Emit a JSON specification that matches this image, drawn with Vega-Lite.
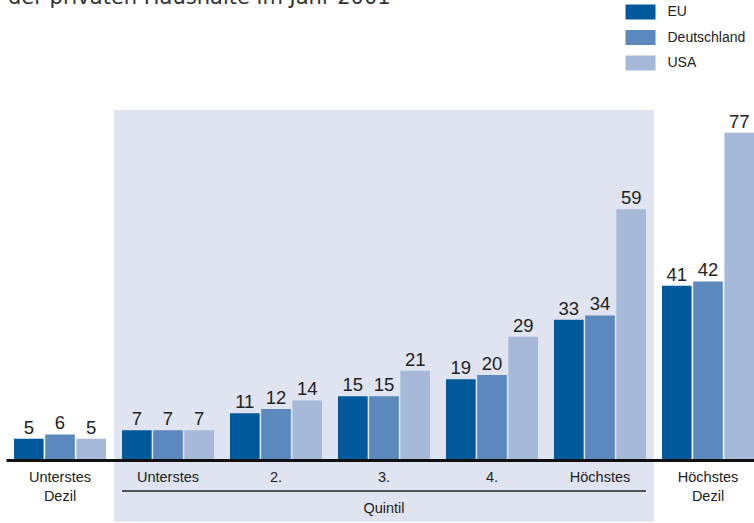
{
  "$schema": "https://vega.github.io/schema/vega-lite/v6.json",
  "width": 756,
  "height": 460,
  "autosize": {"type": "none"},
  "padding": {"left": 6, "right": -8, "top": 0, "bottom": 63},
  "background": "white",
  "title": {
    "text": "der privaten Haushalte im Jahr 2001",
    "anchor": "start",
    "frame": "group",
    "orient": "top",
    "offset": 0,
    "baseline": "alphabetic",
    "dy": 24.5,
    "dx": 2,
    "font": "DejaVu Sans",
    "fontSize": 21,
    "fontWeight": "normal",
    "color": "#333333"
  },
  "config": {
    "view": {"stroke": null},
    "font": "Liberation Sans"
  },
  "data": {
    "values": [
      {"kategorie": "Unterstes Dezil", "land": "EU", "wert": 5},
      {"kategorie": "Unterstes Dezil", "land": "Deutschland", "wert": 6},
      {"kategorie": "Unterstes Dezil", "land": "USA", "wert": 5},
      {"kategorie": "Unterstes", "land": "EU", "wert": 7},
      {"kategorie": "Unterstes", "land": "Deutschland", "wert": 7},
      {"kategorie": "Unterstes", "land": "USA", "wert": 7},
      {"kategorie": "2.", "land": "EU", "wert": 11},
      {"kategorie": "2.", "land": "Deutschland", "wert": 12},
      {"kategorie": "2.", "land": "USA", "wert": 14},
      {"kategorie": "3.", "land": "EU", "wert": 15},
      {"kategorie": "3.", "land": "Deutschland", "wert": 15},
      {"kategorie": "3.", "land": "USA", "wert": 21},
      {"kategorie": "4.", "land": "EU", "wert": 19},
      {"kategorie": "4.", "land": "Deutschland", "wert": 20},
      {"kategorie": "4.", "land": "USA", "wert": 29},
      {"kategorie": "Höchstes", "land": "EU", "wert": 33},
      {"kategorie": "Höchstes", "land": "Deutschland", "wert": 34},
      {"kategorie": "Höchstes", "land": "USA", "wert": 59},
      {"kategorie": "Höchstes Dezil", "land": "EU", "wert": 41},
      {"kategorie": "Höchstes Dezil", "land": "Deutschland", "wert": 42},
      {"kategorie": "Höchstes Dezil", "land": "USA", "wert": 77}
    ]
  },
  "layer": [
    {
      "data": {"values": [{}]},
      "mark": {"type": "rect", "color": "#dfe4f0"},
      "encoding": {
        "x": {
          "datum": "Unterstes",
          "bandPosition": -0.087,
          "type": "nominal",
          "scale": {
            "domain": ["Unterstes Dezil", "Unterstes", "2.", "3.", "4.", "Höchstes", "Höchstes Dezil"],
            "paddingInner": 0.148,
            "paddingOuter": 0.074
          },
          "axis": {
            "title": null,
            "labelAngle": 0,
            "ticks": false,
            "domain": true,
            "domainColor": "#111111",
            "domainWidth": 3,
            "labelPadding": 10,
            "labelFont": "Liberation Sans",
            "labelFontSize": 14.5,
            "labelColor": "#222222",
            "labelLineHeight": 19,
            "labelBaseline": "top",
            "labelExpr": "split(datum.label, ' ')",
            "zindex": 1
          }
        },
        "x2": {"datum": "Höchstes", "bandPosition": 1.087},
        "y": {
          "datum": 82.3,
          "type": "quantitative",
          "scale": {"domain": [0, 108.2], "nice": false, "zero": true},
          "axis": null
        },
        "y2": {"datum": -14.5}
      }
    },
    {
      "mark": {"type": "bar"},
      "encoding": {
        "x": {"field": "kategorie", "type": "nominal"},
        "xOffset": {
          "field": "land",
          "type": "nominal",
          "scale": {"domain": ["EU", "Deutschland", "USA"], "paddingInner": 0.05, "paddingOuter": 0}
        },
        "y": {"field": "wert", "type": "quantitative"},
        "color": {
          "field": "land",
          "type": "nominal",
          "scale": {"domain": ["EU", "Deutschland", "USA"], "range": ["#00599b", "#5b88bd", "#a6b9d9"]},
          "legend": {
            "title": null,
            "orient": "none",
            "legendX": 627,
            "legendY": 4.5,
            "padding": 0,
            "symbolType": "M-2,-1H2V1H-2Z",
            "symbolSize": 225,
            "symbolStrokeWidth": 0,
            "labelOffset": 19.5,
            "labelFont": "Liberation Sans",
            "labelFontSize": 14,
            "labelColor": "#222222",
            "rowPadding": 10.5,
            "zindex": 1
          }
        }
      }
    },
    {
      "mark": {"type": "text", "baseline": "alphabetic", "dy": -5, "fontSize": 18.5, "font": "Liberation Sans", "color": "#222222"},
      "encoding": {
        "x": {"field": "kategorie", "type": "nominal"},
        "xOffset": {"field": "land", "type": "nominal"},
        "y": {"field": "wert", "type": "quantitative"},
        "text": {"field": "wert", "type": "quantitative"}
      }
    },
    {
      "data": {"values": [{}]},
      "mark": {"type": "rule", "color": "#222222", "strokeWidth": 1.5},
      "encoding": {
        "x": {"datum": "Unterstes", "type": "nominal", "bandPosition": 0},
        "x2": {"datum": "Höchstes", "bandPosition": 1},
        "y": {"datum": -7.3, "type": "quantitative"}
      }
    },
    {
      "data": {"values": [{}]},
      "mark": {"type": "text", "baseline": "middle", "fontSize": 14.5, "font": "Liberation Sans", "color": "#222222"},
      "encoding": {
        "x": {"datum": "3.", "type": "nominal"},
        "y": {"datum": -11.6, "type": "quantitative"},
        "text": {"value": "Quintil"}
      }
    }
  ]
}
